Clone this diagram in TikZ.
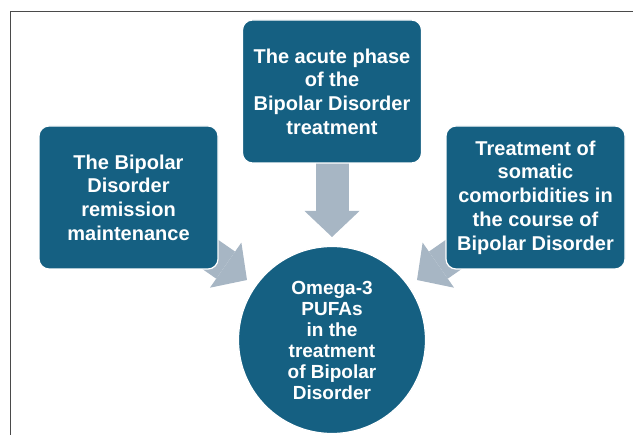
\documentclass[tikz,border=0pt]{standalone}
\usepackage{fontspec}
\setmainfont{Liberation Sans}
\usetikzlibrary{arrows.meta,backgrounds}

\definecolor{boxblue}{HTML}{156082}
\definecolor{arrowgray}{HTML}{A7B6C4}
\definecolor{framegray}{HTML}{4A4A4A}

\begin{document}
\begin{tikzpicture}[
  x=1pt, y=-1pt,
  topic/.style={
    rectangle, rounded corners=10pt, fill=boxblue, draw=white,
    line width=1.2pt, text=white, align=center,
    minimum width=179pt, minimum height=143pt,
    font=\fontsize{20}{23.7}\selectfont\bfseries
  },
  core/.style={
    circle, fill=boxblue, draw=white, line width=1.2pt,
    text=white, align=center, minimum size=187pt, inner sep=0pt,
    font=\fontsize{19}{21}\selectfont\bfseries
  },
  bigarrow/.style={
    arrowgray, line width=33pt,
    -{Triangle[width=55pt, length=26pt, line width=0pt]}
  }
  ]
  \useasboundingbox (0,0) rectangle (633,435);
  \draw [framegray, line width=1pt] (10,435) -- (10,12) -- (633,12);

  \node [topic] (acute) at (332,91.5)
    {The acute phase\\of the\\Bipolar Disorder\\treatment};
  \node [topic] (remission) at (128.5,197.5)
    {The Bipolar\\Disorder\\remission\\maintenance};
  \node [topic] (somatic) at (535.5,197.5)
    {Treatment of\\somatic\\comorbidities in\\the course of\\Bipolar Disorder};
  \node [core] (omega) at (332,340)
    {Omega-3\\PUFAs\\in the\\treatment\\of Bipolar\\Disorder};

  \coordinate (acutetip) at (332,237);
  \coordinate (remissiontip) at (247,280);
  \coordinate (somatictip) at (417,280);

  \begin{scope}[on background layer]
    \draw [bigarrow] (acute.center) -- (acutetip);
    \draw [bigarrow] (remission.center) -- (remissiontip);
    \draw [bigarrow] (somatic.center) -- (somatictip);
  \end{scope}
\end{tikzpicture}
\end{document}
